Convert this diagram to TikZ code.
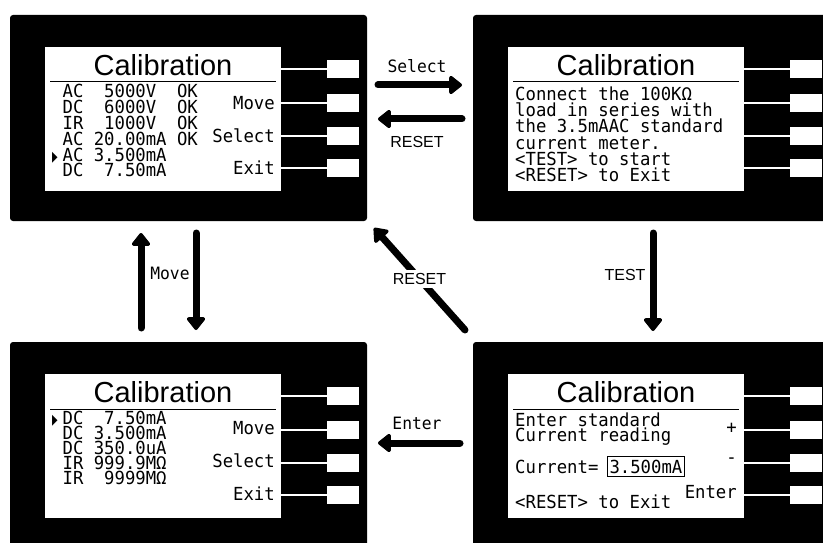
\documentclass[tikz,border=0pt]{standalone}
\usepackage{fontspec}
\setmainfont{Liberation Sans}
\newfontfamily\lcdfont[FakeStretch=0.96]{DejaVu Sans Mono}
\newfontfamily\symfont{DejaVu Sans}
\usetikzlibrary{arrows.meta,positioning}

\newcommand{\cursor}{\makebox[0.578em][l]{\symfont\scalebox{0.4}[0.8]{▶}}}

\tikzset{
    panel/.style={fill=black, rounded corners=3pt},
    lcd/.style={font=\lcdfont\fontsize{18}{15}\selectfont, inner sep=0pt},
    title/.style={font=\fontsize{29}{29}\selectfont, inner sep=0pt},
    keylabel/.style={lcd, anchor=east},
    bigarrow/.style={line width=7pt, line cap=round, -{Triangle[width=21pt,length=14pt,round]}},
    arrowtext/.style={font=\lcdfont\fontsize{17}{17}\selectfont, inner sep=1pt},
    resettext/.style={font=\fontsize{16}{16}\selectfont, inner sep=1pt},
}

\begin{document}
\begin{tikzpicture}[x=1pt,y=-1pt]
    \useasboundingbox (0,0) rectangle (823,543);
    \clip (0,0) rectangle (823,543);
    \fill[white] (0,0) rectangle (823,543);

    % four instrument screens
    \foreach \px/\py/\nm in {10/15/tl, 473/15/tr, 10/342/bl, 473/342/br}{
        \fill[panel] (\px,\py) rectangle ++(357,206);
        \fill[white] (\px+35,\py+32) rectangle ++(236,144);
        \draw[line width=1pt] (\px+40,\py+67) -- ++(226,0);
        \node[title] (\nm-title) at (\px+153,\py+50) {Calibration};
        \foreach \by in {54,88,121,153}{
            \draw[white, line width=1.8pt] (\px+271,\py+\by) -- ++(46,0);
            \fill[white] (\px+317,\py+\by-9) rectangle ++(32,18);
        }
    }

    % top left: list of ranges
    \foreach \t [count=\i] in {~AC~~5000V~~OK, ~DC~~6000V~~OK, ~IR~~1000V~~OK,
                               ~AC~20.00mA~OK, \cursor AC~3.500mA, ~DC~~7.50mA}{
        \node[lcd, anchor=base west] (tl-row\i) at (52, 82+15.8*\i) {\t};
    }
    \node[keylabel] (tl-move) at (275,103) {Move};
    \node[keylabel] (tl-select) at (275,136) {Select};
    \node[keylabel] (tl-exit) at (275,168) {Exit};

    % top right: instructions
    \foreach \t [count=\i] in {Connect the 100KΩ, load in series with, the 3.5mAAC standard,
                               current meter., <TEST> to start, <RESET> to Exit}{
        \node[lcd, anchor=base west] (tr-row\i) at (515, 83.6+16.4*\i) {\t};
    }

    % bottom left: second page of ranges
    \foreach \t [count=\i] in {\cursor DC~~7.50mA, ~DC~3.500mA, ~DC~350.0uA,
                               ~IR~999.9MΩ, ~IR~~9999MΩ}{
        \node[lcd, anchor=base west] (bl-row\i) at (52, 409+15*\i) {\t};
    }
    \node[keylabel] (bl-move) at (275,428) {Move};
    \node[keylabel] (bl-select) at (275,461) {Select};
    \node[keylabel] (bl-exit) at (275,494) {Exit};

    % bottom right: entry of the reading
    \node[lcd, anchor=base west] (br-row1) at (515,426) {Enter standard};
    \node[lcd, anchor=base west] (br-row2) at (515,441) {Current reading};
    \node[lcd, anchor=base west] (br-cur) at (515,473) {Current=};
    \node[lcd, draw, line width=1pt, inner xsep=2pt, inner ysep=3.5pt, anchor=base west]
        (br-val) at (607,473) {3.500mA};
    \node[lcd, anchor=base west] (br-row4) at (515,508) {<RESET> to Exit};
    \node[keylabel] (br-plus) at (737,428) {+};
    \node[keylabel] (br-minus) at (737,461) {-};
    \node[keylabel] (br-enter) at (737,492) {Enter};

    % arrow ends
    \coordinate (selA) at (378,85);
    \coordinate (selB) at (462,85);
    \coordinate (rstA) at (462,119);
    \coordinate (rstB) at (378,119);
    \coordinate (upA) at (141,328);
    \coordinate (upB) at (141,233);
    \coordinate (dnA) at (196,233);
    \coordinate (dnB) at (196,330);
    \coordinate (diagA) at (465,330);
    \coordinate (diagB) at (374,228);
    \coordinate (testA) at (653,233);
    \coordinate (testB) at (653,331);
    \coordinate (entA) at (460,443);
    \coordinate (entB) at (378,443);

    \draw[bigarrow] (selA) -- (selB);
    \draw[bigarrow] (rstA) -- (rstB);
    \draw[bigarrow] (upA) -- (upB);
    \draw[bigarrow] (dnA) -- (dnB);
    \draw[bigarrow] (testA) -- (testB);
    \draw[bigarrow] (entA) -- (entB);
    \draw[bigarrow] (diagA) -- node[resettext, fill=white, inner sep=3pt] (lbl-reset2) {RESET} (diagB);

    \node[arrowtext] (lbl-select) at (417,66) {Select};
    \node[resettext] (lbl-reset1) at (417,142) {RESET};
    \node[arrowtext] (lbl-move) at (170,273) {Move};
    \node[resettext] (lbl-test) at (625,275) {TEST};
    \node[arrowtext] (lbl-enter) at (417,423) {Enter};
\end{tikzpicture}
\end{document}
